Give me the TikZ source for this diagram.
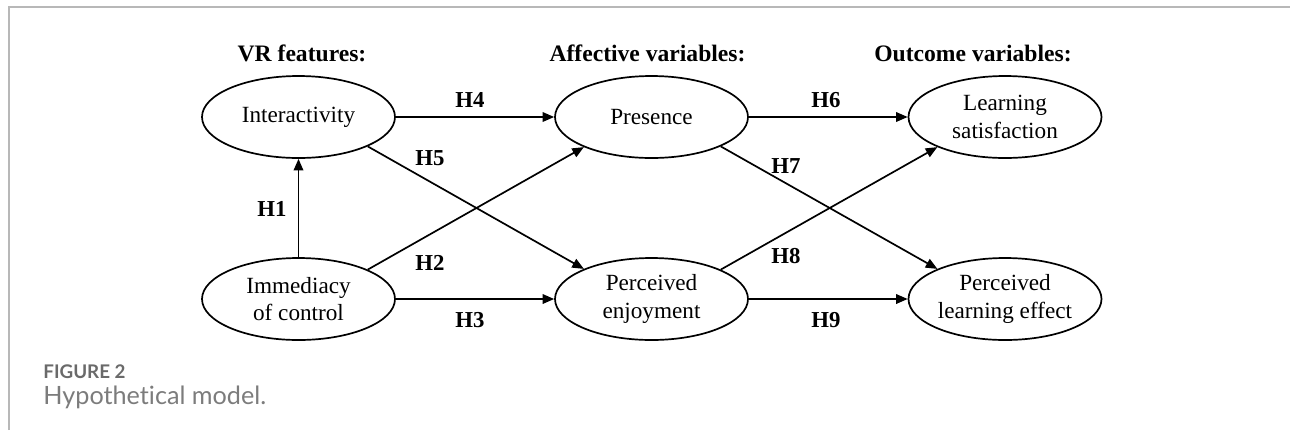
\documentclass[tikz,border=0pt]{standalone}
\usepackage{fontspec}
\setmainfont{Liberation Serif}
\newfontfamily\captionfont[Ligatures={NoCommon}]{Lato}
\usetikzlibrary{positioning,shapes.geometric,arrows.meta}
\definecolor{framegrey}{HTML}{B8B8B8}
\definecolor{capdark}{HTML}{6A6A6A}
\definecolor{caplight}{HTML}{7C7C7C}

\begin{document}
\begin{tikzpicture}[
  x=0.5pt, y=-0.5pt,
  every node/.style={inner sep=0pt},
  construct/.style={
    ellipse, draw, line width=0.85pt,
    minimum width=96.5pt, minimum height=41pt,
    align=center, font=\fontsize{11.6}{13.8}\selectfont
  },
  group/.style={anchor=base, font=\fontsize{11.8}{14}\selectfont\bfseries},
  hyp/.style={font=\fontsize{11.4}{14}\selectfont\bfseries},
  link/.style={line width=0.85pt, -{Triangle[length=5.8pt, width=4.8pt]}}
]
\useasboundingbox (0,0) rectangle (1290,430);

% page frame
\draw[framegrey, line width=0.75pt] (9,430) -- (9,7) -- (1290,7);

% column headings
\node[group] (hvr)  at (302,61)   {VR features:};
\node[group] (haff) at (647.5,61) {Affective variables:};
\node[group] (hout) at (973,61)   {Outcome variables:};

% constructs, top row then bottom row
\node[construct] (inter)  at (298.5,117) {Interactivity};
\node[construct] (pres)   at (651.5,117) {Presence};
\node[construct] (lsat)   at (1005,117)  {Learning\\satisfaction};
\node[construct] (immed)  at (298.5,299) {Immediacy\\of control};
\node[construct] (enjoy)  at (651.5,299) {Perceived\\enjoyment};
\node[construct] (effect) at (1005,299)  {Perceived\\learning effect};

% hypothesised paths
\draw[link] (immed.north) -- (inter.south);
\draw[link] (immed.23) -- (pres.204);
\draw[link] (immed.east) -- (enjoy.west);
\draw[link] (inter.east) -- (pres.west);
\draw[link] (inter.-23) -- (enjoy.156);
\draw[link] (pres.east) -- (lsat.west);
\draw[link] (pres.-23) -- (effect.156);
\draw[link] (enjoy.23) -- (lsat.204);
\draw[link] (enjoy.east) -- (effect.west);

% path labels
\node[hyp] (h1) at (272,209) {H1};
\node[hyp] (h2) at (430,263) {H2};
\node[hyp] (h3) at (470,320) {H3};
\node[hyp] (h4) at (470,100) {H4};
\node[hyp] (h5) at (430,158) {H5};
\node[hyp] (h6) at (826,100) {H6};
\node[hyp] (h7) at (786,166) {H7};
\node[hyp] (h8) at (786,256) {H8};
\node[hyp] (h9) at (826,320) {H9};

% caption
\node[anchor=base west, text=capdark, font=\captionfont\bfseries\fontsize{9.4}{11}\selectfont] (fig) at (43,378) {FIGURE 2};
\node[anchor=base west, text=caplight, font=\captionfont\fontsize{12.6}{15}\selectfont] (cap) at (43,404) {Hypothetical model.};

\end{tikzpicture}
\end{document}
